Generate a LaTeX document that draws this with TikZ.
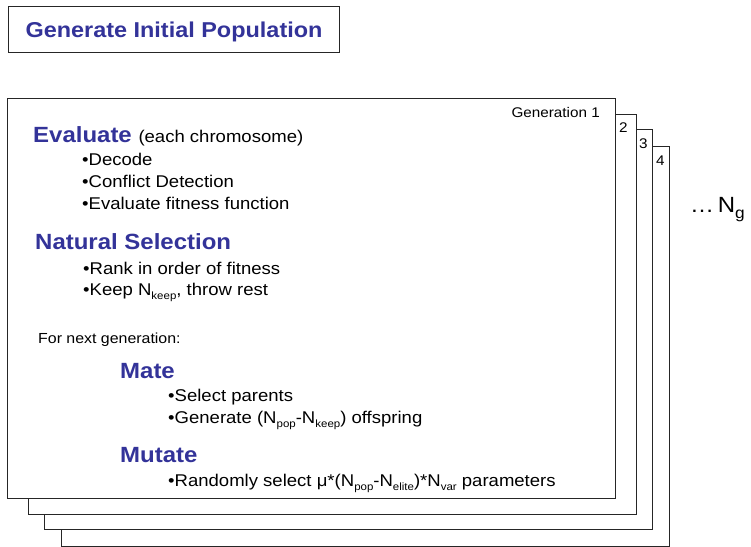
\documentclass[tikz,border=0pt]{standalone}
\usepackage{fontspec}
\setmainfont[FakeStretch=1.09]{Liberation Sans}
\definecolor{hblue}{RGB}{51,51,153}
\newcommand\lowsub[1]{\raisebox{-0.28em}{\scalebox{0.62}{#1}}}
\newcommand\lowsubg[1]{\raisebox{-0.3em}{\scalebox{0.72}{#1}}}
\begin{document}
\begin{tikzpicture}[x=1pt,y=-1pt,
  card/.style={draw=black!85, line width=1pt, fill=white, anchor=north west, inner sep=0,
    minimum width=608pt, minimum height=400pt},
  head/.style={anchor=base west, inner sep=0, text=hblue, font=\fontsize{22}{26}\selectfont\bfseries},
  item/.style={anchor=base west, inner sep=0, font=\fontsize{17}{20}\selectfont},
  small/.style={inner sep=0, font=\fontsize{14}{17}\selectfont}]
\useasboundingbox (0,0) rectangle (751,546);
% title box
\node[draw=black!85, line width=1pt, fill=white, minimum width=331pt, minimum height=46pt,
  anchor=north west, inner sep=0, text height=15.5pt, text depth=0pt, text=hblue,
  font=\fontsize{21.5}{26}\selectfont\bfseries] (init) at (8,6) {Generate Initial Population};
% generation cards
\node[card] (g4) at (61,146) {};
\node[card] (g3) at (44,129) {};
\node[card] (g2) at (28,114) {};
\node[card] (g1) at (7,98) {};
\node[small, anchor=base east] (l1) at (600,117) {Generation 1};
\node[small, anchor=base west] (l2) at (619,132) {2};
\node[small, anchor=base west] (l3) at (639,148) {3};
\node[small, anchor=base west] (l4) at (656,165) {4};
\node[anchor=base west, inner sep=0, font=\fontsize{22}{26}\selectfont] (ng) at (690,212) {…\,N\lowsubg{g}};
% contents
\node[head] (ev) at (33,142) {Evaluate {\fontsize{17}{20}\selectfont\mdseries\color{black} (each chromosome)}};
\node[item] (e1) at (82,165) {•Decode};
\node[item] (e2) at (82,187) {•Conflict Detection};
\node[item] (e3) at (82,209) {•Evaluate fitness function};
\node[head] (ns) at (35,249) {Natural Selection};
\node[item] (n1) at (83,274) {•Rank in order of fitness};
\node[item] (n2) at (83,295) {•Keep N\lowsub{keep}, throw rest};
\node[small, anchor=base west, font=\fontsize{14.6}{17}\selectfont] (fn) at (38,343) {For next generation:};
\node[head] (ma) at (120,378) {Mate};
\node[item] (m1) at (168,401) {•Select parents};
\node[item] (m2) at (168,423) {•Generate (N\lowsub{pop}-N\lowsub{keep}) offspring};
\node[head] (mu) at (120,462) {Mutate};
\node[item] (u1) at (168,486) {•Randomly select μ*(N\lowsub{pop}-N\lowsub{elite})*N\lowsub{var} parameters};
\end{tikzpicture}
\end{document}
